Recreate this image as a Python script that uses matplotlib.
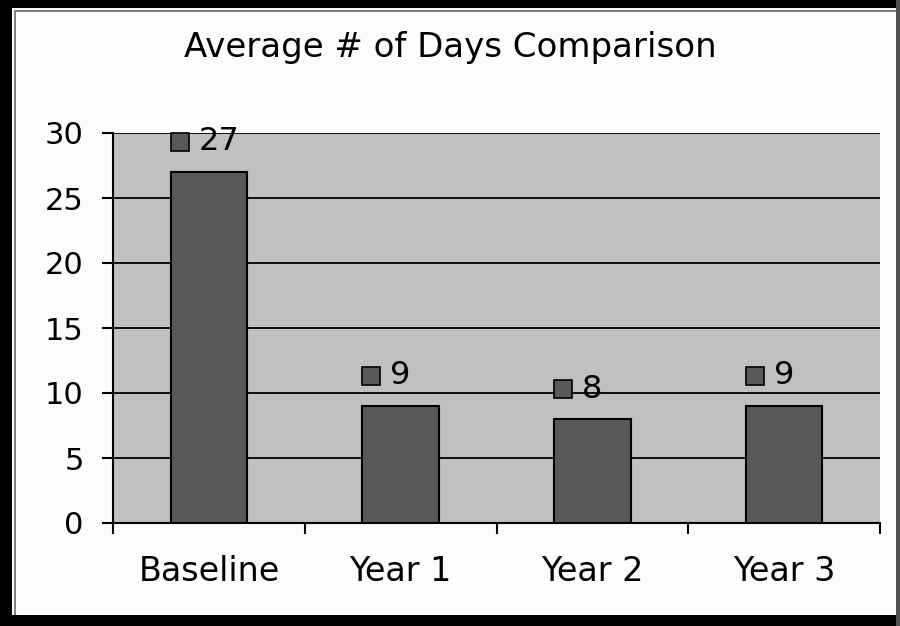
import matplotlib
matplotlib.use('Agg')
import matplotlib.pyplot as plt
from matplotlib.patches import Rectangle
from matplotlib.transforms import offset_copy

categories = ['Baseline', 'Year 1', 'Year 2', 'Year 3']
values = [27, 9, 8, 9]
y_ticks = [0, 5, 10, 15, 20, 25, 30]
title = 'Average # of Days Comparison'

bar_color = '#595959'
plot_bg = '#C0C0C0'
fig_bg = '#FCFCFC'

plt.rcParams['font.family'] = ['DejaVu Sans']
fig = plt.figure(figsize=(9, 6.26), dpi=100, facecolor=fig_bg)
ax = fig.add_axes([113 / 900, 1 - 523 / 626, (880 - 113) / 900, (523 - 133) / 626])
ax.set_facecolor(plot_bg)

x = list(range(len(categories)))
width = 0.4
ax.bar(x, values, width=width, color=bar_color, edgecolor='black', linewidth=1.5, zorder=3)

# value labels: small square key + number above each bar
for i, v in enumerate(values):
    left = i - width / 2
    sq_tr = offset_copy(ax.transData, fig=fig, x=9, y=30, units='dots')
    ax.plot(left, v, marker='s', markersize=13, markerfacecolor=bar_color,
            markeredgecolor='black', markeredgewidth=1.2, transform=sq_tr,
            clip_on=False, zorder=4)
    txt_tr = offset_copy(ax.transData, fig=fig, x=28, y=30, units='dots')
    ax.text(left, v, str(v), transform=txt_tr, ha='left', va='center',
            fontsize=23, color='black', zorder=4)

ax.set_xlim(-0.5, len(categories) - 0.5)
ax.set_ylim(0, 30)
ax.set_yticks(y_ticks)
ax.yaxis.grid(True, color='black', linewidth=1.3)
ax.set_axisbelow(True)

ax.set_xticks(x)
ax.set_xticklabels(categories, fontsize=24)
ax.set_xticks([i - 0.5 for i in range(len(categories) + 1)], minor=True)
ax.tick_params(axis='x', which='major', length=0, pad=23)
ax.tick_params(axis='x', which='minor', length=8, width=1.5, direction='out')
ax.tick_params(axis='y', length=8, width=1.5, direction='out', pad=13, labelsize=22)

for side in ['top', 'right']:
    ax.spines[side].set_visible(False)
for side in ['left', 'bottom']:
    ax.spines[side].set_linewidth(1.5)
    ax.spines[side].set_zorder(5)

fig.text(0.5, 1 - 48 / 626, title, ha='center', va='center', fontsize=24.5)

# frame around the figure
W, H = 900, 626
def px_rect(x0, y0, w, h, color):
    fig.patches.append(Rectangle((x0 / W, 1 - (y0 + h) / H), w / W, h / H,
                                 transform=fig.transFigure, color=color,
                                 linewidth=0, zorder=0))
px_rect(0, 0, W, 8, 'black')
px_rect(0, 615, W, 11, 'black')
px_rect(0, 0, 12, H, 'black')
px_rect(896, 0, 4, H, '#505050')
px_rect(14, 10, 2, 605, '#808080')
px_rect(14, 10, 882, 2, '#808080')

fig.savefig('out.png', dpi=100, facecolor=fig_bg)
